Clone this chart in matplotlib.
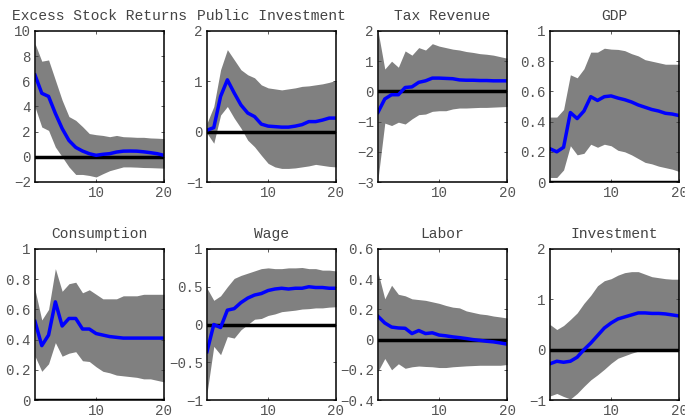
import matplotlib
matplotlib.use("Agg")
import matplotlib.pyplot as plt
import numpy as np

plt.rcParams['font.family'] = ['Liberation Mono', 'DejaVu Sans Mono']

horizon = np.arange(1, 21)

titles = ["Excess Stock Returns", "Public Investment", "Tax Revenue", "GDP",
          "Consumption", "Wage", "Labor", "Investment"]

ylims = [(-2, 10), (-1, 2), (-3, 2), (0, 1),
         (0, 1), (-1, 1), (-0.4, 0.6), (-1, 2)]

yticks = [[-2, 0, 2, 4, 6, 8, 10], [-1, 0, 1, 2], [-3, -2, -1, 0, 1, 2],
          [0, 0.2, 0.4, 0.6, 0.8, 1], [0, 0.2, 0.4, 0.6, 0.8, 1],
          [-1, -0.5, 0, 0.5, 1], [-0.4, -0.2, 0, 0.2, 0.4, 0.6], [-1, 0, 1, 2]]

stock_mid = [6.5, 5.05, 4.8, 3.45, 2.25, 1.3, 0.75, 0.46, 0.25, 0.12,
             0.2, 0.25, 0.38, 0.45, 0.46, 0.45, 0.4, 0.33, 0.25, 0.12]
stock_hi = [9.0, 7.6, 7.7, 6.1, 4.5, 3.2, 2.9, 2.4, 1.85, 1.76,
            1.7, 1.6, 1.7, 1.6, 1.58, 1.55, 1.55, 1.5, 1.48, 1.45]
stock_lo = [3.96, 2.37, 2.1, 0.78, 0.0, -0.8, -1.4, -1.4, -1.48, -1.6,
            -1.34, -1.1, -0.95, -0.8, -0.8, -0.82, -0.85, -0.86, -0.88, -0.9]

pubinv_mid = [0.03, 0.08, 0.7, 1.03, 0.77, 0.53, 0.37, 0.3, 0.15, 0.11,
              0.1, 0.09, 0.09, 0.11, 0.14, 0.2, 0.2, 0.23, 0.27, 0.27]
pubinv_hi = [0.17, 0.5, 1.23, 1.63, 1.43, 1.23, 1.13, 1.07, 0.93, 0.87,
             0.85, 0.83, 0.85, 0.87, 0.9, 0.91, 0.93, 0.95, 0.98, 1.02]
pubinv_lo = [-0.03, -0.23, 0.33, 0.5, 0.27, 0.07, -0.17, -0.3, -0.47, -0.63,
             -0.7, -0.73, -0.73, -0.72, -0.7, -0.68, -0.65, -0.67, -0.69, -0.7]

tax_mid = [-0.69, -0.25, -0.11, -0.11, 0.13, 0.15, 0.3, 0.35, 0.44, 0.44,
           0.43, 0.42, 0.38, 0.37, 0.37, 0.36, 0.36, 0.35, 0.35, 0.35]
tax_hi = [2.0, 0.74, 1.0, 0.8, 1.34, 1.2, 1.45, 1.37, 1.58, 1.5,
          1.45, 1.4, 1.37, 1.32, 1.29, 1.25, 1.23, 1.2, 1.15, 1.1]
tax_lo = [-2.9, -1.05, -1.13, -1.02, -1.08, -0.91, -0.77, -0.75, -0.66, -0.64,
          -0.64, -0.58, -0.55, -0.55, -0.54, -0.53, -0.53, -0.52, -0.51, -0.5]

gdp_mid = [0.22, 0.2, 0.23, 0.46, 0.42, 0.47, 0.565, 0.54, 0.565, 0.57,
           0.556, 0.545, 0.53, 0.51, 0.495, 0.48, 0.47, 0.455, 0.45, 0.44]
gdp_hi = [0.43, 0.43, 0.48, 0.71, 0.69, 0.75, 0.86, 0.86, 0.886, 0.88,
          0.878, 0.87, 0.85, 0.835, 0.81, 0.8, 0.79, 0.78, 0.78, 0.78]
gdp_lo = [0.03, 0.03, 0.08, 0.24, 0.18, 0.19, 0.25, 0.23, 0.25, 0.24,
          0.21, 0.2, 0.18, 0.155, 0.13, 0.12, 0.105, 0.095, 0.085, 0.07]

cons_mid = [0.52, 0.36, 0.43, 0.65, 0.49, 0.54, 0.54, 0.47, 0.47, 0.44,
            0.43, 0.42, 0.415, 0.41, 0.41, 0.41, 0.41, 0.41, 0.41, 0.41]
cons_hi = [0.73, 0.53, 0.6, 0.87, 0.72, 0.77, 0.78, 0.71, 0.73, 0.7,
           0.67, 0.67, 0.67, 0.69, 0.69, 0.69, 0.7, 0.7, 0.7, 0.7]
cons_lo = [0.29, 0.19, 0.24, 0.38, 0.29, 0.31, 0.32, 0.26, 0.255, 0.22,
           0.19, 0.18, 0.165, 0.16, 0.155, 0.15, 0.14, 0.14, 0.13, 0.12]

wage_mid = [-0.36, 0.0, -0.04, 0.19, 0.21, 0.29, 0.35, 0.39, 0.41, 0.45,
            0.47, 0.48, 0.47, 0.48, 0.48, 0.5, 0.49, 0.49, 0.48, 0.48]
wage_hi = [0.48, 0.32, 0.38, 0.5, 0.61, 0.65, 0.68, 0.71, 0.74, 0.75,
           0.74, 0.74, 0.75, 0.75, 0.755, 0.74, 0.74, 0.72, 0.72, 0.71]
wage_lo = [-0.91, -0.29, -0.4, -0.16, -0.18, -0.07, 0.0, 0.07, 0.08, 0.12,
           0.14, 0.17, 0.18, 0.19, 0.205, 0.21, 0.22, 0.22, 0.23, 0.235]

labor_mid = [0.154, 0.11, 0.083, 0.077, 0.075, 0.04, 0.06, 0.04, 0.045, 0.03,
             0.025, 0.018, 0.013, 0.007, 0.0, -0.005, -0.011, -0.015, -0.022, -0.03]
labor_hi = [0.446, 0.27, 0.36, 0.3, 0.29, 0.27, 0.265, 0.26, 0.25, 0.24,
            0.226, 0.215, 0.21, 0.19, 0.18, 0.17, 0.165, 0.156, 0.15, 0.143]
labor_lo = [-0.21, -0.125, -0.2, -0.16, -0.19, -0.18, -0.175, -0.178, -0.18, -0.185,
            -0.185, -0.18, -0.177, -0.174, -0.172, -0.17, -0.17, -0.17, -0.17, -0.165]

inv_mid = [-0.28, -0.23, -0.25, -0.23, -0.15, 0.0, 0.13, 0.28, 0.43, 0.53,
           0.61, 0.65, 0.69, 0.73, 0.73, 0.72, 0.72, 0.71, 0.69, 0.67]
inv_hi = [0.5, 0.4, 0.48, 0.6, 0.73, 0.92, 1.08, 1.27, 1.37, 1.41,
          1.48, 1.53, 1.55, 1.55, 1.5, 1.45, 1.43, 1.41, 1.4, 1.4]
inv_lo = [-0.92, -0.87, -0.93, -0.98, -0.87, -0.73, -0.6, -0.5, -0.39, -0.27,
          -0.17, -0.12, -0.07, -0.03, 0.0, 0.01, 0.01, 0.01, 0.01, 0.01]

mids = [stock_mid, pubinv_mid, tax_mid, gdp_mid, cons_mid, wage_mid, labor_mid, inv_mid]
his = [stock_hi, pubinv_hi, tax_hi, gdp_hi, cons_hi, wage_hi, labor_hi, inv_hi]
los = [stock_lo, pubinv_lo, tax_lo, gdp_lo, cons_lo, wage_lo, labor_lo, inv_lo]


def tick_fmt(v):
    s = f"{v:g}"
    return s.replace("-", "\u2212")


fig = plt.figure(figsize=(6.85, 4.2), dpi=100)
# panel corners in pixels: left edges per column, top edges per row
lefts = [35, 207, 378, 550]
tops = [31, 249]
w, h = 129, 151

for i in range(8):
    row, col = divmod(i, 4)
    ax = fig.add_axes([lefts[col] / 685, 1 - (tops[row] + h) / 420, w / 685, h / 420])
    ax.fill_between(horizon, los[i], his[i], color="#808080", linewidth=0)
    ax.axhline(0, color="black", linewidth=2.5)
    ax.plot(horizon, mids[i], color="#0000ff", linewidth=2.5)
    ax.set_xlim(1, 20)
    ax.set_ylim(*ylims[i])
    ax.set_xticks([10, 20])
    ax.set_xticklabels(["10", "20"])
    ax.set_yticks(yticks[i])
    ax.set_yticklabels([tick_fmt(v) for v in yticks[i]])
    ax.tick_params(direction="in", length=2.5, width=0.6, top=True, right=True,
                   labelsize=10.2, labelcolor="#555555", color="#404040", pad=3)
    for sp in ax.spines.values():
        sp.set_linewidth(1.1)
        sp.set_color("black")
    ax.set_title(titles[i], fontsize=10.5, color="#444444", pad=8)

fig.savefig("out.png", dpi=100)
